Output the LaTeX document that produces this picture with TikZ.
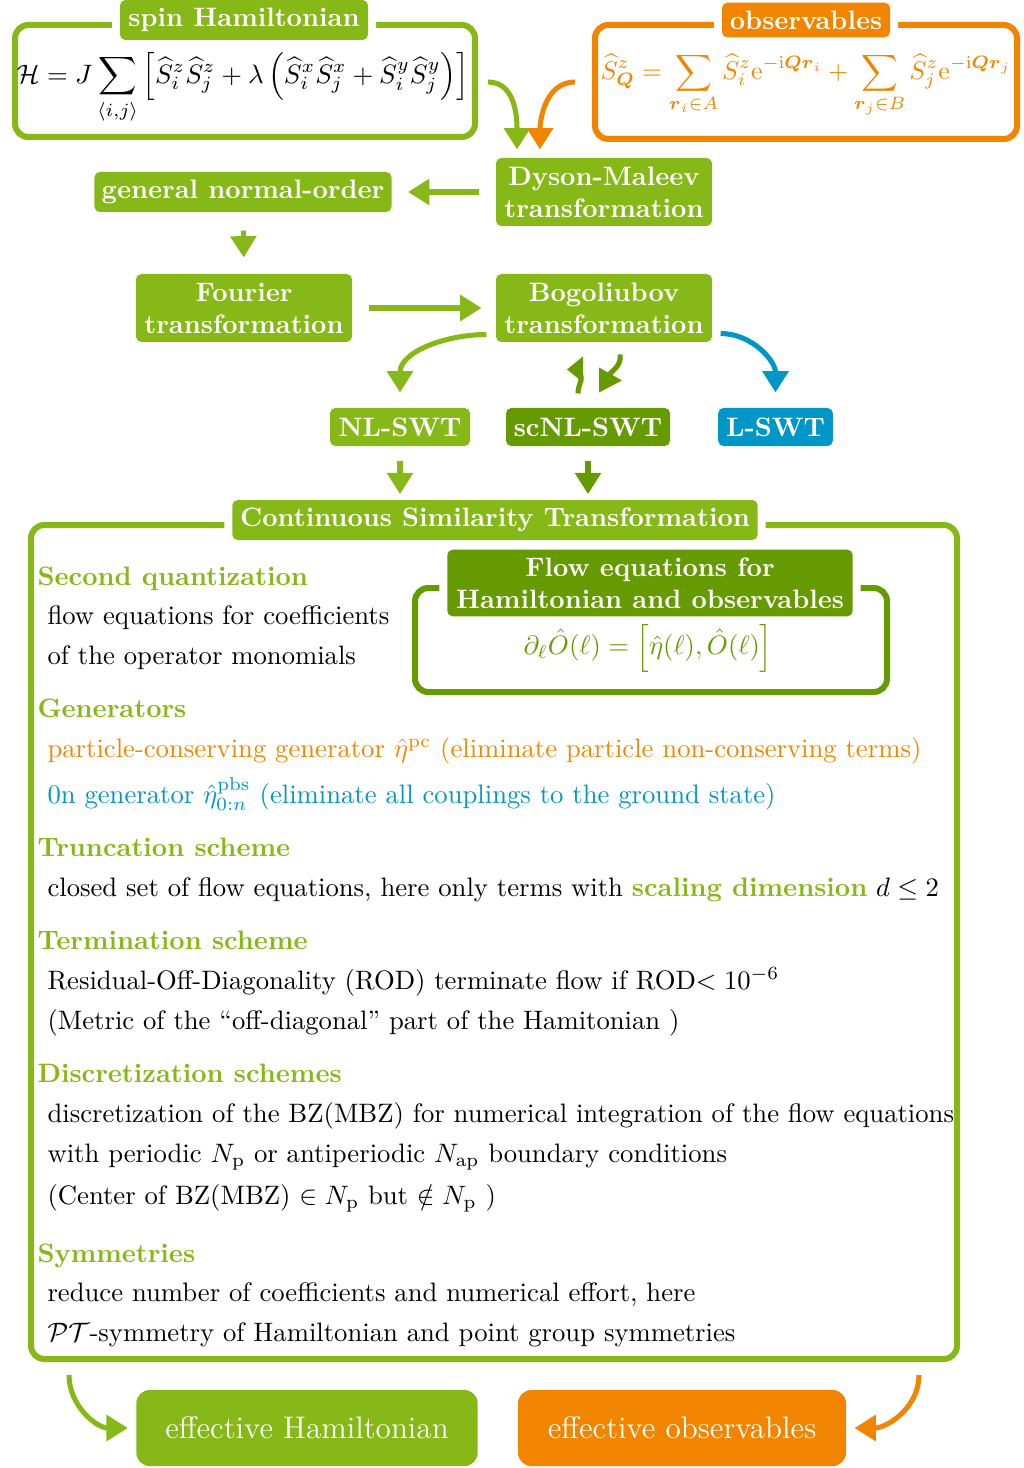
\documentclass[tikz,border=0pt]{standalone}
\usepackage{amsmath}
\usetikzlibrary{arrows.meta,calc}
\definecolor{lg}{RGB}{134,184,23}
\definecolor{dg}{RGB}{101,155,0}
\definecolor{og}{RGB}{242,133,0}
\definecolor{bl}{RGB}{0,150,200}
\begin{document}
\begin{tikzpicture}[x=0.375pt,y=-0.375pt,
  frame/.style={draw, line width=2.25pt, rounded corners=5pt, inner sep=0pt},
  box/.style={fill, text=white, font=\bfseries, rounded corners=2pt, inner sep=0pt, align=center},
  tbox/.style={box, preaction={draw=white, line width=6pt}},
  bigbox/.style={fill, text=white, font=\fontsize{11.7}{14}\selectfont, rounded corners=5pt, inner sep=0pt},
  txt/.style={anchor=base west, inner sep=0pt},
  hd/.style={txt, text=lg, font=\bfseries},
  arr/.style={line width=1.9pt, -{Triangle[width=9.5pt,length=8pt]}},
  shaft/.style={line width=1.9pt}
]
\useasboundingbox (0,0) rectangle (1023,1468);

% top frames
\node[frame, draw=lg, minimum width=172.5pt, minimum height=42pt] (hamF) at (245,81) {};
\node[tbox, fill=lg, minimum width=93pt, minimum height=15pt] (hamT) at (244,20) {spin Hamiltonian};
\node (hamEq) at (243,88) {$\displaystyle \mathcal{H} = J\sum_{\langle i,j\rangle}\Big[\widehat{S}_i^z\widehat{S}_j^z+\lambda\,\Big(\widehat{S}_i^x\widehat{S}_j^x+\widehat{S}_i^y\widehat{S}_j^y\Big)\Big]$};

\node[frame, draw=og, minimum width=158.25pt, minimum height=42.75pt] (obsF) at (806,82) {};
\node[tbox, fill=og, minimum width=63pt, minimum height=13pt] (obsT) at (806,20) {observables};
\node[text=og] (obsEq) at (806,85) {\scalebox{0.96}{$\displaystyle \widehat{S}^z_{\boldsymbol{Q}} = \sum_{\boldsymbol{r}_i\in A}\widehat{S}^z_i\mathrm{e}^{-\mathrm{i}\boldsymbol{Q}\boldsymbol{r}_i} + \sum_{\boldsymbol{r}_j\in B}\widehat{S}^z_j\mathrm{e}^{-\mathrm{i}\boldsymbol{Q}\boldsymbol{r}_j}$}};

% chain
\node[box, fill=lg, minimum width=81pt, minimum height=25.5pt] (dm) at (604,192) {Dyson-Maleev\\transformation};
\node[box, fill=lg, minimum width=111.4pt, minimum height=15pt] (gno) at (243,192) {general normal-order};
\node[box, fill=lg, minimum width=81pt, minimum height=25.5pt] (four) at (244,308) {Fourier\\transformation};
\node[box, fill=lg, minimum width=81pt, minimum height=25.5pt] (bog) at (604,308) {Bogoliubov\\transformation};
\node[box, fill=lg, minimum width=52.5pt, minimum height=14.25pt] (nl) at (400,427) {NL-SWT};
\node[box, fill=dg, minimum width=61.5pt, minimum height=14.25pt] (scnl) at (588,427) {scNL-SWT};
\node[box, fill=bl, minimum width=43pt, minimum height=14.25pt] (lswt) at (775.5,427) {L-SWT};

% big frame
\node[frame, draw=lg, minimum width=347.25pt, minimum height=312.75pt] (bigF) at (494,942) {};
\node[tbox, fill=lg, minimum width=197pt, minimum height=15pt] (cstT) at (495,520) {Continuous Similarity Transformation};

\node[frame, draw=dg, minimum width=177pt, minimum height=39pt] (flowF) at (651,640) {};
\node[tbox, fill=dg, minimum width=152pt, minimum height=25pt] (flowT) at (650,583) {Flow equations for\\Hamiltonian and observables};
\node[text=dg] (flowEq) at (648,648) {$\partial_\ell\hat{O}(\ell) = \Big[\hat{\eta}(\ell),\hat{O}(\ell)\Big]$};

% texts
\node[hd] (h1) at (37,585) {Second quantization};
\node[txt] (t11) at (47,624) {flow equations for coefficients};
\node[txt] (t12) at (47,664) {of the operator monomials};
\node[hd] (h2) at (37,717) {Generators};
\node[txt, text=og] (t21) at (47,757) {particle-conserving generator $\hat{\eta}^{\mathrm{pc}}$ (eliminate particle non-conserving terms)};
\node[txt, text=bl] (t22) at (47,803) {0n generator $\hat{\eta}^{\mathrm{pbs}}_{0:n}$ (eliminate all couplings to the ground state)};
\node[hd] (h3) at (37,856) {Truncation scheme};
\node[txt] (t31) at (47,896) {closed set of flow equations, here only terms with \textcolor{lg}{\bfseries scaling dimension} $d\leq 2$};
\node[hd] (h4) at (37,949) {Termination scheme};
\node[txt] (t41) at (47,989) {Residual-Off-Diagonality (ROD) terminate flow if ROD$<10^{-6}$};
\node[txt] (t42) at (47,1029) {(Metric of the ``off-diagonal'' part of the Hamitonian )};
\node[hd] (h5) at (37,1082) {Discretization schemes};
\node[txt] (t51) at (47,1122) {discretization of the BZ(MBZ) for numerical integration of the flow equations};
\node[txt] (t52) at (47,1162) {with periodic $N_{\mathrm{p}}$ or antiperiodic $N_{\mathrm{ap}}$ boundary conditions};
\node[txt] (t53) at (47,1204) {(Center of BZ(MBZ) $\in N_{\mathrm{p}}$ but $\notin N_{\mathrm{p}}$ )};
\node[hd] (h6) at (37,1262) {Symmetries};
\node[txt] (t61) at (47,1301) {reduce number of coefficients and numerical effort, here};
\node[txt] (t62) at (47,1341) {$\mathcal{PT}$-symmetry of Hamiltonian and point group symmetries};

% bottom
\node[bigbox, fill=lg, minimum width=128pt, minimum height=28.5pt] (effH) at (307,1428) {effective Hamiltonian};
\node[bigbox, fill=og, minimum width=123pt, minimum height=28.5pt] (effO) at (682,1428) {effective observables};

% arrows
\draw[arr, lg] ($(hamF.east)+(10,1)$) to[out=0,in=90] ($(dm.north)+(-87,-8)$);
\draw[arr, og] ($(obsF.west)+(-17,0)$) to[out=180,in=90] ($(dm.north)+(-64,-8)$);
\draw[arr, lg, shorten <=6pt, shorten >=6pt] (dm.west) -- (gno.east);
\draw[arr, lg, shorten <=6.75pt, shorten >=6pt] (gno.south) -- (four.north);
\draw[arr, lg, shorten <=6pt, shorten >=5.25pt] (four.east) -- (bog.west);
\draw[arr, lg] ($(bog.south west)+(-9,-8)$) to[out=180,in=90] ($(nl.north)+(0,-15)$);
\draw[arr, bl] ($(bog.south east)+(8,-9)$) to[out=0,in=90] ($(lswt.north)+(0,-15)$);
% exchange arrows between Bogoliubov and scNL-SWT
\draw[shaft, dg] ($(scnl.north)+(-10,-14)$) to[out=95,in=-80] ($(scnl.north)+(-7,-32)$);
\fill[dg] ($(scnl.north)+(-21,-38)$) -- ($(scnl.north)+(-5,-51)$) -- ($(scnl.north)+(-5,-25)$) -- cycle;
\draw[shaft, dg] ($(scnl.north)+(32,-53)$) to[out=-80,in=45] ($(scnl.north)+(18,-30)$);
\fill[dg] ($(scnl.north)+(34,-27)$) -- ($(scnl.north)+(11,-40)$) -- ($(scnl.north)+(11,-15)$) -- cycle;
\draw[arr, lg, shorten <=5.25pt, shorten >=2pt] (nl.south) -- (nl.south |- cstT.north);
\draw[arr, dg, shorten <=5.25pt, shorten >=2pt] (scnl.south) -- (scnl.south |- cstT.north);
\draw[arr, lg] ($(bigF.south west)+(41,13)$) to[out=-90,in=180] ($(effH.west)+(-8,0)$);
\draw[arr, og] ($(bigF.south east)+(-41,13)$) to[out=-90,in=0] ($(effO.east)+(8,0)$);
\end{tikzpicture}
\end{document}
